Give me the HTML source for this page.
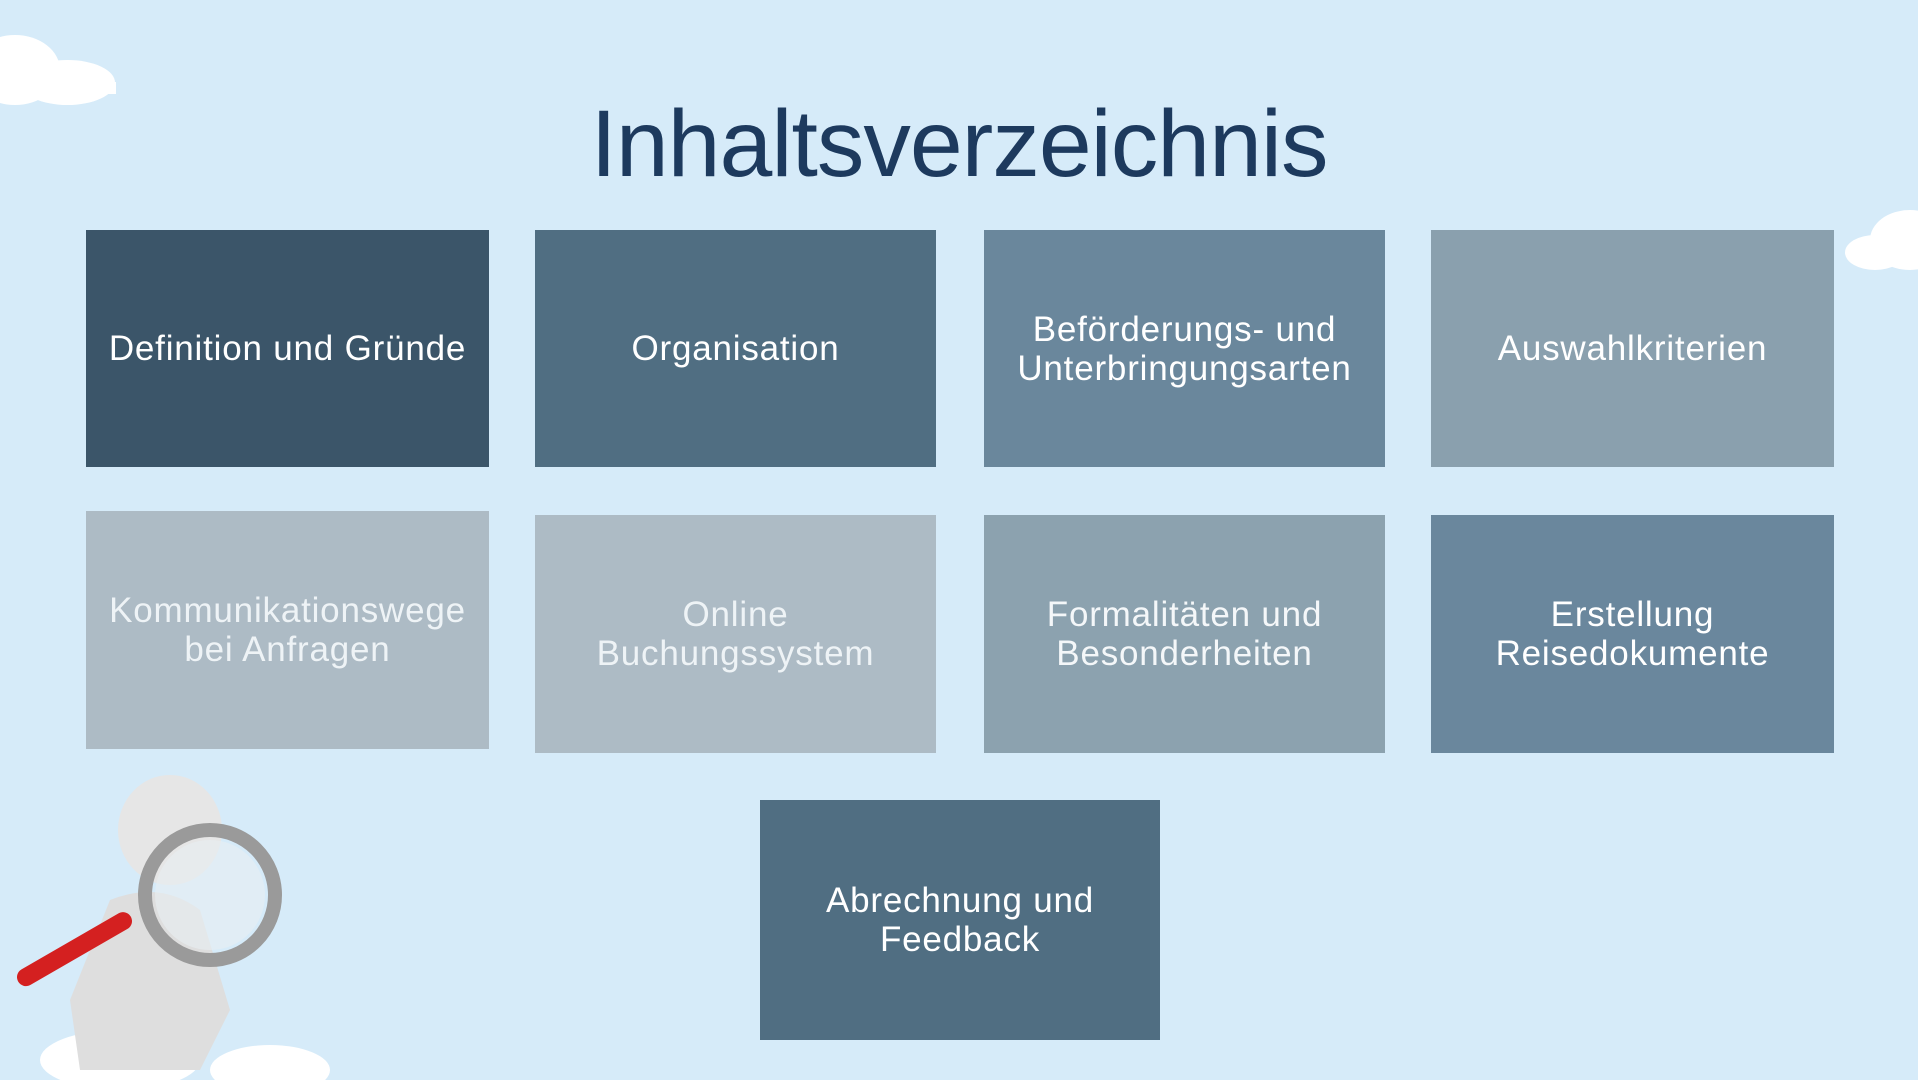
<!DOCTYPE html>
<html><head><meta charset="utf-8"><style>
html,body{margin:0;padding:0}
body{width:1918px;height:1080px;background:#d6ebf9;position:relative;overflow:hidden;font-family:"Liberation Sans",Arial,sans-serif}
.t{position:absolute;left:0;width:1918px;top:90px;text-align:center;font-size:95px;color:#1d3a5e;letter-spacing:-1px}
.b{position:absolute;display:flex;align-items:center;justify-content:center;text-align:center;color:#fff;font-size:35px;line-height:39px;letter-spacing:0.8px}
.c{position:absolute;background:#fff;border-radius:50%}
</style></head><body>
<div class="c" style="left:-30px;top:35px;width:90px;height:70px"></div>
<div class="c" style="left:20px;top:60px;width:95px;height:45px"></div>
<div style="position:absolute;left:0;top:82px;width:116px;height:12px;background:#fff"></div>
<div class="c" style="left:1870px;top:210px;width:80px;height:60px"></div>
<div class="c" style="left:1845px;top:235px;width:60px;height:35px"></div>
<div class="t">Inhaltsverzeichnis</div>
<div class="b" style="left:86px;top:230px;width:403px;height:237px;background:#3b5569">Definition und Gründe</div>
<div class="b" style="left:535px;top:230px;width:401px;height:237px;background:#506e82">Organisation</div>
<div class="b" style="left:984px;top:230px;width:401px;height:237px;background:#6a879c">Beförderungs- und<br>Unterbringungsarten</div>
<div class="b" style="left:1431px;top:230px;width:403px;height:237px;background:#8aa0ae">Auswahlkriterien</div>
<div class="b" style="left:86px;top:511px;width:403px;height:238px;background:#adbbc5;color:#eef3f6">Kommunikationswege<br>bei Anfragen</div>
<div class="b" style="left:535px;top:515px;width:401px;height:238px;background:#adbbc5;color:#eef3f6">Online<br>Buchungssystem</div>
<div class="b" style="left:984px;top:515px;width:401px;height:238px;background:#8ca2af;color:#f4f7f9">Formalitäten und<br>Besonderheiten</div>
<div class="b" style="left:1431px;top:515px;width:403px;height:238px;background:#6a879d">Erstellung<br>Reisedokumente</div>
<div class="b" style="left:760px;top:800px;width:400px;height:240px;background:#506e82">Abrechnung und<br>Feedback</div>
<svg style="position:absolute;left:0;top:770px" width="330" height="310">
<ellipse cx="120" cy="290" rx="80" ry="30" fill="#fff"/>
<ellipse cx="270" cy="300" rx="60" ry="25" fill="#fff"/>
<ellipse cx="170" cy="60" rx="52" ry="55" fill="#e6e6e6"/>
<path d="M110 130 Q160 110 200 140 L230 240 L200 300 L80 300 L70 230 Z" fill="#dedede"/>
<rect x="10" y="170" width="130" height="18" rx="9" transform="rotate(-30 75 180)" fill="#d42020"/>
<circle cx="210" cy="125" r="65" fill="none" stroke="#9a9a9a" stroke-width="14"/>
<circle cx="210" cy="125" r="55" fill="#e8eef2" opacity="0.6"/>
</svg>
</body></html>
